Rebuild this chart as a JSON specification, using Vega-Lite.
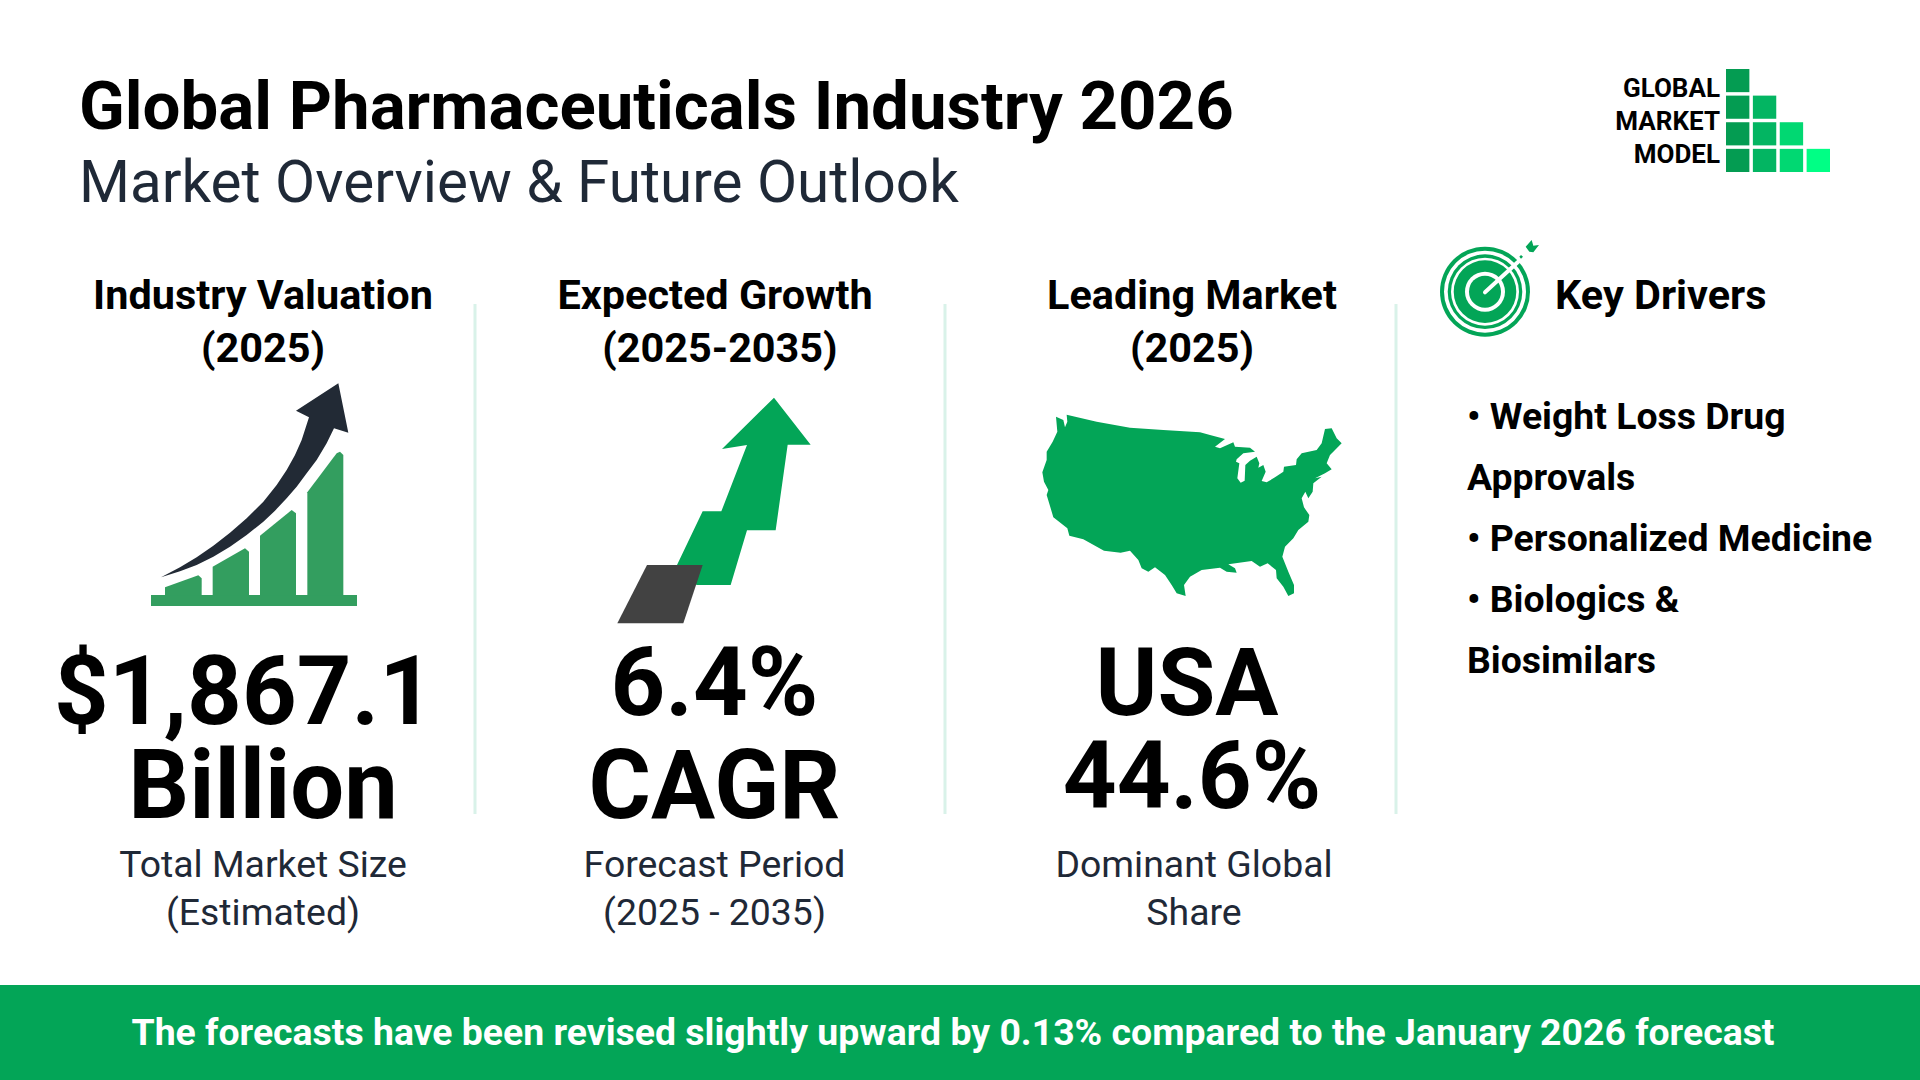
{
  "$schema": "https://vega.github.io/schema/vega-lite/v6.json",
  "width": 1920,
  "height": 1080,
  "padding": 0,
  "autosize": {"type": "fit", "contains": "padding"},
  "background": "white",
  "view": {"stroke": null},
  "config": {"axis": {"disable": true}, "text": {"font": "Roboto", "baseline": "alphabetic"}},
  "encoding": {
    "x": {"field": "col", "type": "quantitative", "axis": null, "scale": {"zero": false, "nice": false, "domain": [1,2,3,4,5,6,7,8,9,10,11,12,13], "range": [79,263,244,715,720,1192,1187,1194,1555,1467,953,714.5,1720]}},
    "y": {"field": "row", "type": "quantitative", "axis": null, "scale": {"zero": false, "nice": false, "domain": [1,2,3,4,5,6,7,8,9,10,11,12,13,14,15,16,17,18,19], "range": [129,202,309,362,724,818,715,808,877,925,429,490,551,612,673,1045,97,130,163]}},
    "text": {"field": "label", "type": "nominal"}
  },
  "layer": [
    {
      "data": {"values": [{"section": "footer"}]},
      "mark": {"type": "rect", "color": "#03a557"},
      "encoding": {
        "x": {"field": "section", "type": "nominal", "axis": null, "scale": {"type": "band", "domain": ["footer"], "range": [0,1920], "paddingInner": 0, "paddingOuter": 0}},
        "y": {"field": "section", "type": "nominal", "axis": null, "scale": {"type": "band", "domain": ["footer"], "range": [985,1080], "paddingInner": 0, "paddingOuter": 0}},
        "text": null
      }
    },
    {
      "data": {"values": [{"divider": 1, "span": "panels"}, {"divider": 2, "span": "panels"}, {"divider": 3, "span": "panels"}]},
      "mark": {"type": "tick", "orient": "vertical", "color": "#d9f2e9", "size": 510, "thickness": 3, "opacity": 1},
      "encoding": {
        "x": {"field": "divider", "type": "quantitative", "axis": null, "scale": {"domain": [1,2,3], "range": [475,945,1396], "nice": false, "zero": false}},
        "y": {"field": "span", "type": "nominal", "axis": null, "scale": {"type": "band", "domain": ["panels"], "range": [304,814], "paddingInner": 0, "paddingOuter": 0}},
        "text": null
      }
    },
    {
      "data": {"values": [{"label": "Global Pharmaceuticals Industry 2026", "col": 1, "row": 1}]},
      "mark": {"type": "text", "align": "left", "fontSize": 67.2, "fontWeight": 700, "color": "#000000"}
    },
    {
      "data": {"values": [{"label": "Market Overview & Future Outlook", "col": 1, "row": 2}]},
      "mark": {"type": "text", "align": "left", "fontSize": 58.4, "fontWeight": 400, "color": "#1f2937"}
    },
    {
      "data": {"values": [
        {"label": "Industry Valuation", "col": 2, "row": 3},
        {"label": "(2025)", "col": 2, "row": 4},
        {"label": "Expected Growth", "col": 4, "row": 3},
        {"label": "(2025-2035)", "col": 5, "row": 4},
        {"label": "Leading Market", "col": 6, "row": 3},
        {"label": "(2025)", "col": 6, "row": 4}
      ]},
      "mark": {"type": "text", "align": "center", "fontSize": 41.4, "fontWeight": 700, "color": "#000000"}
    },
    {
      "data": {"values": [{"label": "Key Drivers", "col": 9, "row": 3}]},
      "mark": {"type": "text", "align": "left", "fontSize": 41.4, "fontWeight": 700, "color": "#000000"}
    },
    {
      "data": {"values": [
        {"label": "$1,867.1", "col": 3, "row": 5},
        {"label": "Billion", "col": 2, "row": 6},
        {"label": "6.4%", "col": 12, "row": 7},
        {"label": "CAGR", "col": 12, "row": 6}
      ]},
      "mark": {"type": "text", "align": "center", "fontSize": 95.5, "fontWeight": 700, "color": "#000000"}
    },
    {
      "data": {"values": [
        {"label": "USA", "col": 7, "row": 7},
        {"label": "44.6%", "col": 6, "row": 8}
      ]},
      "mark": {"type": "text", "align": "center", "fontSize": 94, "fontWeight": 700, "color": "#000000"}
    },
    {
      "data": {"values": [
        {"label": "Total Market Size", "col": 2, "row": 9},
        {"label": "(Estimated)", "col": 2, "row": 10},
        {"label": "Forecast Period", "col": 12, "row": 9},
        {"label": "(2025 - 2035)", "col": 12, "row": 10},
        {"label": "Dominant Global", "col": 8, "row": 9},
        {"label": "Share", "col": 8, "row": 10}
      ]},
      "mark": {"type": "text", "align": "center", "fontSize": 37.4, "fontWeight": 400, "color": "#1f2937"}
    },
    {
      "data": {"values": [
        {"label": "• Weight Loss Drug", "col": 10, "row": 11},
        {"label": "Approvals", "col": 10, "row": 12},
        {"label": "• Personalized Medicine", "col": 10, "row": 13},
        {"label": "• Biologics &", "col": 10, "row": 14},
        {"label": "Biosimilars", "col": 10, "row": 15}
      ]},
      "mark": {"type": "text", "align": "left", "fontSize": 37.4, "fontWeight": 700, "color": "#000000"}
    },
    {
      "data": {"values": [{"label": "The forecasts have been revised slightly upward by 0.13% compared to the January 2026 forecast", "col": 11, "row": 16}]},
      "mark": {"type": "text", "align": "center", "fontSize": 37.4, "fontWeight": 700, "color": "#ffffff"}
    },
    {
      "data": {"values": [
        {"label": "GLOBAL", "col": 13, "row": 17},
        {"label": "MARKET", "col": 13, "row": 18},
        {"label": "MODEL", "col": 13, "row": 19}
      ]},
      "mark": {"type": "text", "align": "right", "fontSize": 26, "fontWeight": 700, "color": "#000000"}
    },
    {
      "data": {"values": [
        {"c": 1, "r": 1}, {"c": 1, "r": 2}, {"c": 2, "r": 2}, {"c": 1, "r": 3}, {"c": 2, "r": 3}, {"c": 3, "r": 3},
        {"c": 1, "r": 4}, {"c": 2, "r": 4}, {"c": 3, "r": 4}, {"c": 4, "r": 4}
      ]},
      "mark": {"type": "rect"},
      "encoding": {
        "x": {"field": "c", "type": "ordinal", "axis": null, "scale": {"type": "band", "domain": [1,2,3,4], "range": [1726,1830], "paddingInner": 0.13, "paddingOuter": 0}},
        "y": {"field": "r", "type": "ordinal", "axis": null, "scale": {"type": "band", "domain": [1,2,3,4], "range": [69,172], "paddingInner": 0.13, "paddingOuter": 0}},
        "color": {"field": "c", "type": "ordinal", "legend": null, "scale": {"domain": [1,2,3,4], "range": ["#049c52","#03b562","#01d872","#00ff85"]}},
        "text": null
      }
    },
    {
      "data": {"values": [
        {"part": "base", "u": 63, "v": 675}, {"part": "base", "u": 681, "v": 675}, {"part": "base", "u": 681, "v": 708}, {"part": "base", "u": 63, "v": 708},
        {"part": "bar1", "u": 105, "v": 652}, {"part": "bar1", "u": 205, "v": 616}, {"part": "bar1", "u": 215, "v": 625}, {"part": "bar1", "u": 215, "v": 676}, {"part": "bar1", "u": 105, "v": 676},
        {"part": "bar2", "u": 248, "v": 590}, {"part": "bar2", "u": 345, "v": 535}, {"part": "bar2", "u": 357, "v": 545}, {"part": "bar2", "u": 357, "v": 676}, {"part": "bar2", "u": 248, "v": 676},
        {"part": "bar3", "u": 390, "v": 497}, {"part": "bar3", "u": 485, "v": 420}, {"part": "bar3", "u": 498, "v": 430}, {"part": "bar3", "u": 498, "v": 676}, {"part": "bar3", "u": 390, "v": 676},
        {"part": "bar4", "u": 532, "v": 367}, {"part": "bar4", "u": 620, "v": 250}, {"part": "bar4", "u": 630, "v": 245}, {"part": "bar4", "u": 640, "v": 255}, {"part": "bar4", "u": 640, "v": 676}, {"part": "bar4", "u": 532, "v": 676},
        {"part": "arrow", "u": 93, "v": 622}, {"part": "arrow", "u": 150, "v": 592}, {"part": "arrow", "u": 200, "v": 562}, {"part": "arrow", "u": 250, "v": 527}, {"part": "arrow", "u": 300, "v": 488}, {"part": "arrow", "u": 350, "v": 445}, {"part": "arrow", "u": 400, "v": 395}, {"part": "arrow", "u": 440, "v": 345}, {"part": "arrow", "u": 470, "v": 300}, {"part": "arrow", "u": 495, "v": 255}, {"part": "arrow", "u": 515, "v": 210}, {"part": "arrow", "u": 537, "v": 142}, {"part": "arrow", "u": 498, "v": 122}, {"part": "arrow", "u": 625, "v": 40}, {"part": "arrow", "u": 655, "v": 188}, {"part": "arrow", "u": 612, "v": 175}, {"part": "arrow", "u": 590, "v": 220}, {"part": "arrow", "u": 560, "v": 270}, {"part": "arrow", "u": 530, "v": 310}, {"part": "arrow", "u": 500, "v": 350}, {"part": "arrow", "u": 470, "v": 385}, {"part": "arrow", "u": 435, "v": 422}, {"part": "arrow", "u": 400, "v": 455}, {"part": "arrow", "u": 350, "v": 495}, {"part": "arrow", "u": 300, "v": 530}, {"part": "arrow", "u": 250, "v": 560}, {"part": "arrow", "u": 200, "v": 585}, {"part": "arrow", "u": 150, "v": 604}, {"part": "arrow", "u": 93, "v": 622}
      ]},
      "mark": {"type": "line", "filled": true, "strokeWidth": 0},
      "encoding": {
        "x": {"field": "u", "type": "quantitative", "axis": null, "scale": {"domain": [0,780], "range": [130,390], "nice": false, "zero": false}},
        "y": {"field": "v", "type": "quantitative", "axis": null, "scale": {"domain": [0,750], "range": [370,620], "nice": false, "zero": false}},
        "color": {"field": "part", "type": "nominal", "legend": null, "scale": {"domain": ["base","bar1","bar2","bar3","bar4","arrow"], "range": ["#339e5f","#339e5f","#339e5f","#339e5f","#339e5f","#222a35"]}},
        "order": {"value": null},
        "text": null
      }
    },
    {
      "data": {"values": [
        {"part": "rise", "u": 522, "v": 53}, {"part": "rise", "u": 632, "v": 194}, {"part": "rise", "u": 563, "v": 194}, {"part": "rise", "u": 527, "v": 451}, {"part": "rise", "u": 441, "v": 451}, {"part": "rise", "u": 392, "v": 615}, {"part": "rise", "u": 290, "v": 615}, {"part": "rise", "u": 231, "v": 555}, {"part": "rise", "u": 308, "v": 394}, {"part": "rise", "u": 364, "v": 394}, {"part": "rise", "u": 441, "v": 195}, {"part": "rise", "u": 366, "v": 207},
        {"part": "step", "u": 141, "v": 555}, {"part": "step", "u": 308, "v": 555}, {"part": "step", "u": 250, "v": 730}, {"part": "step", "u": 52, "v": 730}
      ]},
      "mark": {"type": "line", "filled": true, "strokeWidth": 0},
      "encoding": {
        "x": {"field": "u", "type": "quantitative", "axis": null, "scale": {"domain": [0,720], "range": [600,840], "nice": false, "zero": false}},
        "y": {"field": "v", "type": "quantitative", "axis": null, "scale": {"domain": [0,750], "range": [380,630], "nice": false, "zero": false}},
        "color": {"field": "part", "type": "nominal", "legend": null, "scale": {"domain": ["rise","step"], "range": ["#03a557","#424242"]}},
        "order": {"value": null},
        "text": null
      }
    },
    {
      "data": {"values": [
        {"u": 78, "v": 50}, {"u": 100, "v": 60}, {"u": 105, "v": 82}, {"u": 112, "v": 65}, {"u": 110, "v": 44}, {"u": 200, "v": 65}, {"u": 300, "v": 83}, {"u": 400, "v": 90}, {"u": 510, "v": 97}, {"u": 540, "v": 105}, {"u": 585, "v": 117}, {"u": 555, "v": 140}, {"u": 570, "v": 145}, {"u": 610, "v": 127}, {"u": 615, "v": 140}, {"u": 660, "v": 143}, {"u": 675, "v": 155}, {"u": 640, "v": 160}, {"u": 620, "v": 178}, {"u": 618, "v": 185}, {"u": 628, "v": 190}, {"u": 622, "v": 235}, {"u": 632, "v": 248}, {"u": 644, "v": 242}, {"u": 646, "v": 195}, {"u": 660, "v": 182}, {"u": 680, "v": 170}, {"u": 688, "v": 190}, {"u": 685, "v": 203}, {"u": 700, "v": 195}, {"u": 707, "v": 215}, {"u": 695, "v": 243}, {"u": 710, "v": 247}, {"u": 735, "v": 232}, {"u": 760, "v": 215}, {"u": 762, "v": 200}, {"u": 798, "v": 195}, {"u": 800, "v": 178}, {"u": 815, "v": 160}, {"u": 860, "v": 150}, {"u": 875, "v": 130}, {"u": 885, "v": 87}, {"u": 905, "v": 85}, {"u": 920, "v": 115}, {"u": 935, "v": 130}, {"u": 915, "v": 150}, {"u": 900, "v": 165}, {"u": 890, "v": 190}, {"u": 905, "v": 208}, {"u": 885, "v": 220}, {"u": 855, "v": 235}, {"u": 875, "v": 230}, {"u": 850, "v": 250}, {"u": 848, "v": 275}, {"u": 835, "v": 295}, {"u": 826, "v": 275}, {"u": 815, "v": 295}, {"u": 822, "v": 322}, {"u": 838, "v": 345}, {"u": 835, "v": 365}, {"u": 805, "v": 390}, {"u": 790, "v": 415}, {"u": 765, "v": 440}, {"u": 757, "v": 470}, {"u": 775, "v": 515}, {"u": 792, "v": 555}, {"u": 792, "v": 580}, {"u": 775, "v": 588}, {"u": 760, "v": 560}, {"u": 740, "v": 535}, {"u": 738, "v": 510}, {"u": 713, "v": 490}, {"u": 690, "v": 500}, {"u": 665, "v": 483}, {"u": 595, "v": 493}, {"u": 615, "v": 505}, {"u": 620, "v": 518}, {"u": 590, "v": 515}, {"u": 570, "v": 503}, {"u": 515, "v": 510}, {"u": 480, "v": 530}, {"u": 462, "v": 555}, {"u": 467, "v": 588}, {"u": 440, "v": 580}, {"u": 425, "v": 555}, {"u": 405, "v": 525}, {"u": 375, "v": 502}, {"u": 355, "v": 515}, {"u": 335, "v": 505}, {"u": 325, "v": 480}, {"u": 300, "v": 452}, {"u": 272, "v": 458}, {"u": 222, "v": 452}, {"u": 160, "v": 418}, {"u": 118, "v": 407}, {"u": 112, "v": 385}, {"u": 70, "v": 352}, {"u": 62, "v": 325}, {"u": 50, "v": 285}, {"u": 55, "v": 270}, {"u": 42, "v": 245}, {"u": 37, "v": 217}, {"u": 50, "v": 180}, {"u": 50, "v": 155}, {"u": 68, "v": 125}, {"u": 82, "v": 95}
      ]},
      "mark": {"type": "line", "filled": true, "strokeWidth": 0, "color": "#03a557"},
      "encoding": {
        "x": {"field": "u", "type": "quantitative", "axis": null, "scale": {"domain": [0,960], "range": [1030,1350], "nice": false, "zero": false}},
        "y": {"field": "v", "type": "quantitative", "axis": null, "scale": {"domain": [0,630], "range": [400,610], "nice": false, "zero": false}},
        "order": {"value": null},
        "text": null
      }
    },
    {
      "data": {"values": [
        {"ring": 1, "u": 150, "v": 170}, {"ring": 2, "u": 150, "v": 170}, {"ring": 3, "u": 150, "v": 170}, {"ring": 4, "u": 150, "v": 170}, {"ring": 5, "u": 150, "v": 170}, {"ring": 6, "u": 150, "v": 170}, {"ring": 7, "u": 150, "v": 170}
      ]},
      "mark": {"type": "point", "shape": "circle", "filled": true, "opacity": 1, "strokeWidth": 0},
      "encoding": {
        "x": {"field": "u", "type": "quantitative", "axis": null, "scale": {"domain": [0,330], "range": [1435,1545], "nice": false, "zero": false}},
        "y": {"field": "v", "type": "quantitative", "axis": null, "scale": {"domain": [0,330], "range": [235,345], "nice": false, "zero": false}},
        "size": {"field": "ring", "type": "quantitative", "legend": null, "scale": {"zero": false, "nice": false, "domain": [1,2,3,4,5,6,7], "range": [8100,6724,5565,4624,3919,1600,1024]}},
        "color": {"field": "ring", "type": "nominal", "legend": null, "scale": {"domain": [1,2,3,4,5,6,7], "range": ["#03a557","#ffffff","#03a557","#ffffff","#03a557","#ffffff","#03a557"]}},
        "text": null
      }
    },
    {
      "data": {"values": [
        {"u": 150, "v": 172}, {"u": 252, "v": 78}
      ]},
      "mark": {"type": "line", "color": "#ffffff", "strokeWidth": 4, "strokeCap": "round"},
      "encoding": {
        "x": {"field": "u", "type": "quantitative", "axis": null, "scale": {"domain": [0,330], "range": [1435,1545], "nice": false, "zero": false}},
        "y": {"field": "v", "type": "quantitative", "axis": null, "scale": {"domain": [0,330], "range": [235,345], "nice": false, "zero": false}},
        "order": {"value": null},
        "text": null
      }
    },
    {
      "data": {"values": [
        {"part": "tip", "u": 272, "v": 35}, {"part": "tip", "u": 290, "v": 15}, {"part": "tip", "u": 295, "v": 32}, {"part": "tip", "u": 312, "v": 30}, {"part": "tip", "u": 295, "v": 52}, {"part": "tip", "u": 283, "v": 50},
        {"part": "dot", "u": 253, "v": 65}, {"part": "dot", "u": 258, "v": 60}, {"part": "dot", "u": 264, "v": 65}, {"part": "dot", "u": 258, "v": 71}
      ]},
      "mark": {"type": "line", "filled": true, "strokeWidth": 0, "color": "#03a557"},
      "encoding": {
        "x": {"field": "u", "type": "quantitative", "axis": null, "scale": {"domain": [0,330], "range": [1435,1545], "nice": false, "zero": false}},
        "y": {"field": "v", "type": "quantitative", "axis": null, "scale": {"domain": [0,330], "range": [235,345], "nice": false, "zero": false}},
        "detail": {"field": "part"},
        "order": {"value": null},
        "text": null
      }
    }
  ],
  "resolve": {"scale": {"x": "independent", "y": "independent", "color": "independent", "size": "independent"}}
}
